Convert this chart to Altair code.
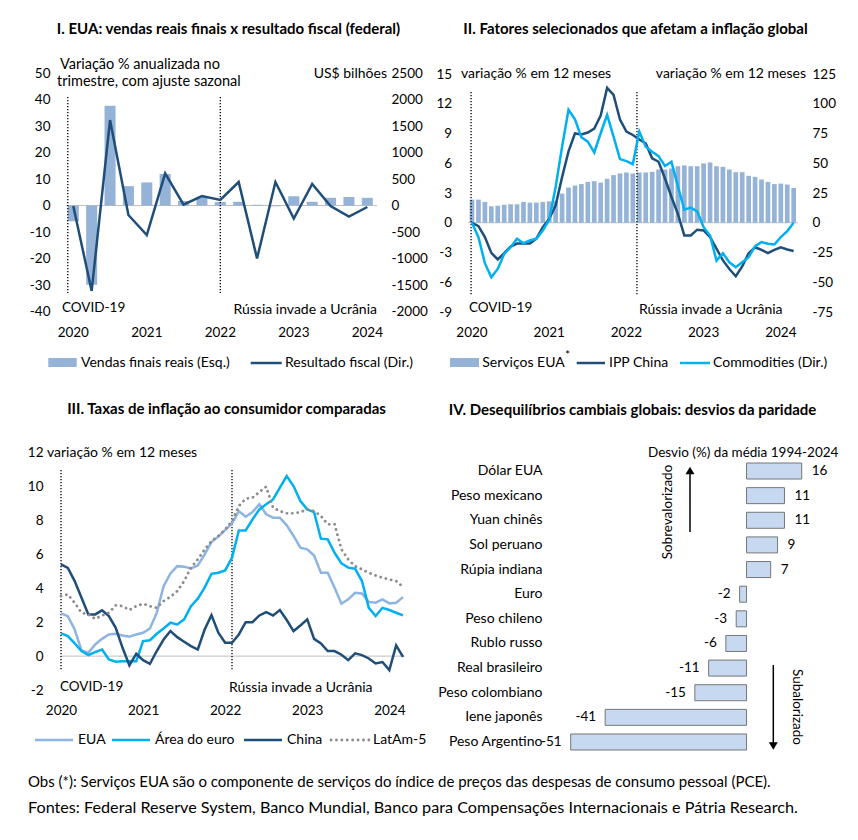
import altair as alt
import pandas as pd

FONT = "Lato"
NAVY = "#1f4e79"
CYAN = "#00b0f0"
LIGHT = "#8db4e2"
BARC = "#95b3d7"
DOTG = "#8c8c8c"
ZERO = "#c0c0c0"
W, H = 858, 840

# ---------------- data ----------------
titles = [
    "I. EUA: vendas reais finais x resultado fiscal (federal)",
    "II. Fatores selecionados que afetam a inflação global",
    "III. Taxas de inflação ao consumidor comparadas",
    "IV. Desequilíbrios cambiais globais: desvios da paridade",
]

# Panel I (quarterly)
quarters = ["2020Q1", "2020Q2", "2020Q3", "2020Q4", "2021Q1", "2021Q2", "2021Q3", "2021Q4",
            "2022Q1", "2022Q2", "2022Q3", "2022Q4", "2023Q1", "2023Q2", "2023Q3", "2023Q4", "2024Q1"]
vendas = [-5.9, -29.9, 37.6, 7.3, 8.7, 11.9, 1.7, 3.3, 1.3, 1.4, 0.3, -0.3, 3.5, 1.4, 2.9, 3.2, 2.9]
fiscal = [-10, -1613, 1613, -179, -557, 608, 17, 179, 104, 443, -1000, 443, -247, 406, -9, -209, -28]
q_ticks = ["2020Q1", "2021Q1", "2022Q1", "2023Q1", "2024Q1"]

# Panels II and III (monthly, Jan 2020 - Mar 2024)
months = [f"{y}-{m:02d}" for y in range(2020, 2025) for m in range(1, 13)][:51]
m_ticks = ["2020-01", "2021-01", "2022-01", "2023-01", "2024-01"]

servicos = [2.33, 2.33, 2.1, 1.66, 1.72, 1.82, 1.86, 1.86, 2.1, 2.03,
            2.03, 2.1, 2.16, 2.2, 2.94, 3.55, 3.75, 3.9, 4.12, 4.19,
            4.05, 4.43, 4.8, 4.97, 5.07, 4.97, 5.07, 5.07, 5.14, 5.37,
            5.37, 5.47, 5.7, 5.78, 5.7, 5.7, 5.98, 6.08, 5.7, 5.64,
            5.37, 5.1, 5.1, 4.73, 4.63, 4.36, 4.12, 3.9, 3.95, 3.85, 3.51]
ipp = [0, -0.34, -1.45, -3.04, -3.7, -3.07, -2.4, -2.1, -2.1, -2.1,
       -1.6, -0.45, 0.4, 1.75, 4.6, 7.2, 9.0, 8.9, 9.1, 9.5,
       10.8, 13.6, 12.9, 10.4, 9.2, 8.85, 8.4, 8.0, 6.5, 6.15,
       4.46, 2.6, 0.9, -1.28, -1.28, -0.7, -0.78, -1.45, -2.6, -3.8,
       -4.66, -5.4, -4.4, -3.07, -2.47, -2.74, -3.07, -2.74, -2.47, -2.7, -2.84]
commodities = [0, -12.1, -34, -45.9, -38.8, -26.2, -20.5, -13.5, -17.2, -14.9,
               -13.5, -6.5, 2.5, 30, 64, 94.9, 87, 71.8, 68.1, 59.1,
               75.2, 90.6, 72.3, 53.5, 51.8, 49.3, 76.6, 63.9, 59.7, 56,
               47.6, 51.2, 30.7, 11, 12.7, 9.6, -3.7, -10.7, -31.8, -25.6,
               -33.2, -37.4, -33.2, -29, -19.7, -16.3, -17.7, -18.3, -12.1, -7, 0]

eua = [2.52, 2.36, 1.57, 0.33, 0.2, 0.69, 1.02, 1.28, 1.32, 1.22,
       1.14, 1.28, 1.38, 1.63, 2.56, 4.13, 4.88, 5.31, 5.28, 5.18,
       5.35, 6.0, 6.73, 7.05, 7.44, 7.83, 8.56, 8.23, 8.5, 8.96,
       8.37, 8.17, 8.17, 7.72, 7.09, 6.4, 6.3, 5.94, 4.92, 4.92,
       4.04, 3.09, 3.35, 3.74, 3.7, 3.2, 3.15, 3.35, 3.11, 3.15, 3.48]
euro = [1.34, 1.18, 0.75, 0.3, 0.06, 0.24, 0.39, -0.2, -0.33, -0.3,
        -0.3, -0.3, 0.89, 0.94, 1.32, 1.63, 1.97, 1.87, 2.17, 2.95,
        3.39, 4.04, 4.86, 4.92, 5.06, 5.81, 7.42, 7.42, 8.07, 8.66,
        8.96, 9.25, 9.94, 10.63, 10.04, 9.15, 8.66, 8.5, 6.93, 6.89,
        6.1, 5.47, 5.22, 5.16, 4.43, 2.85, 2.36, 2.85, 2.72, 2.56, 2.4]
china = [5.41, 5.2, 4.43, 3.44, 2.46, 2.46, 2.7, 2.36, 1.67, 0.49,
         -0.55, 0.14, -0.24, -0.45, 0.3, 0.98, 1.48, 1.12, 0.85, 0.59,
         0.39, 1.57, 2.42, 1.38, 0.79, 0.79, 1.28, 2.0, 2.0, 2.4,
         2.6, 2.4, 2.72, 2.13, 1.48, 1.81, 2.17, 1.02, 0.75, 0.3,
         0.3, 0.08, -0.24, 0.16, 0.06, -0.14, -0.43, -0.35, -0.83, 0.63, -0.04]
latam = [3.55, 3.64, 3.15, 2.56, 2.46, 2.2, 2.4, 2.56, 3.0, 2.95,
         2.72, 2.95, 3.09, 2.95, 2.85, 3.25, 3.5, 3.84, 4.43, 5.22,
         5.71, 6.3, 6.79, 7.09, 7.48, 7.97, 8.86, 9.29, 9.35, 9.69,
         10.0, 8.76, 8.56, 8.43, 8.43, 8.5, 8.66, 8.56, 8.27, 7.78,
         7.78, 6.3, 5.71, 5.31, 5.12, 4.92, 4.76, 4.63, 4.53, 4.43, 4.09]

# Panel IV
moedas = ["Dólar EUA", "Peso mexicano", "Yuan chinês", "Sol peruano", "Rúpia indiana", "Euro",
          "Peso chileno", "Rublo russo", "Real brasileiro", "Peso colombiano", "Iene japonês",
          "Peso Argentino"]
desvio = [16, 11, 11, 9, 7, -2, -3, -6, -11, -15, -41, -51]

leg1 = ["Vendas finais reais (Esq.)", "Resultado fiscal (Dir.)"]
leg2 = ["Serviços EUA", "IPP China", "Commodities (Dir.)"]
leg3 = ["EUA", "Área do euro", "China", "LatAm-5"]
footer = [
    "Obs (*): Serviços EUA são o componente de serviços do índice de preços das despesas de consumo pessoal (PCE).",
    "Fontes: Federal Reserve System, Banco Mundial, Banco para Compensações Internacionais e Pátria Research.",
]

# ---------------- helpers ----------------
ONE = pd.DataFrame({"k": [0]})
AX = dict(domain=False, ticks=False, tickSize=0, grid=False, labelPadding=0, title=None,
          labelFont=FONT, labelFontSize=13.5, labelColor="#000000", labelOverlap=False)


def xaxis(ypos, values):
    return alt.Axis(orient="bottom", offset=ypos - H, values=values, labelAngle=0,
                    labelBaseline="middle", labelExpr="slice(datum.label, 0, 4)", **AX)


def yaxis(orient, xpos, values):
    off = -xpos if orient == "left" else xpos - W
    return alt.Axis(orient=orient, offset=off, values=values,
                    labelExpr="toString(datum.value)", **AX)


def txt(s, x, y, size=13, align="left", weight="normal", angle=0, color="#000000"):
    kw = dict(text=s, align=align, baseline="middle", fontSize=size, fontWeight=weight,
              font=FONT, color=color)
    if angle:
        kw["angle"] = angle
    return alt.Chart(ONE).mark_text(**kw).encode(x=alt.value(x), y=alt.value(y))


def hline(x1, x2, y, color, width=2.5, dash=None, cap="butt"):
    kw = dict(color=color, strokeWidth=width, strokeCap=cap)
    if dash:
        kw["strokeDash"] = dash
    return alt.Chart(ONE).mark_rule(**kw).encode(x=alt.value(x1), x2=alt.value(x2), y=alt.value(y))


def vline(x, y1, y2, color="#000000", width=1.5):
    return alt.Chart(ONE).mark_rule(color=color, strokeWidth=width).encode(
        x=alt.value(x), y=alt.value(y1), y2=alt.value(y2))


def swatch(x1, x2, y1, y2, color):
    return alt.Chart(ONE).mark_rect(color=color).encode(
        x=alt.value(x1), x2=alt.value(x2), y=alt.value(y1), y2=alt.value(y2))


DOT = dict(color="#000000", strokeWidth=1.3, strokeDash=[1.3, 1.7])

# ---------------- Panel I ----------------
df1 = pd.DataFrame({"q": quarters, "vendas": vendas, "fiscal": fiscal})
sx1 = alt.Scale(range=[64.1, 376.5], paddingInner=0.4, paddingOuter=0.2)
syL1 = alt.Scale(domain=[-40, 50], range=[311.5, 73], nice=False, zero=False)
syR1 = alt.Scale(domain=[-2000, 2500], range=[311.5, 73], nice=False, zero=False)
ax_x1 = xaxis(332.5, q_ticks)
ax_yL1 = yaxis("left", 50, list(range(-40, 51, 10)))
ax_yR1 = yaxis("right", 391, list(range(-2000, 2501, 500)))

zero1 = alt.Chart(ONE).mark_rule(color=ZERO, strokeWidth=1).encode(
    x=alt.value(66), x2=alt.value(377), y=alt.Y(datum=0, scale=syL1, axis=ax_yL1))
bars1 = alt.Chart(df1).mark_bar(color=BARC).encode(
    x=alt.X("q:N", scale=sx1, axis=ax_x1),
    y=alt.Y("vendas:Q", scale=syL1, axis=ax_yL1))
vl1a = alt.Chart(ONE).mark_rule(**DOT).encode(
    x=alt.X(datum="2020Q1", type="nominal", bandPosition=0, scale=sx1, axis=ax_x1),
    y=alt.value(97), y2=alt.value(293))
vl1b = alt.Chart(ONE).mark_rule(**DOT).encode(
    x=alt.X(datum="2022Q1", type="nominal", bandPosition=0.5, scale=sx1, axis=ax_x1),
    y=alt.value(97), y2=alt.value(293))
line1 = alt.Chart(df1).mark_line(color=NAVY, strokeWidth=2.5).encode(
    x=alt.X("q:N", scale=sx1, axis=ax_x1, bandPosition=0.5),
    y=alt.Y("fiscal:Q", scale=syR1, axis=ax_yR1))
p1 = alt.layer(alt.layer(zero1, bars1, vl1a, vl1b), line1).resolve_scale(y="independent")

# ---------------- Panel II ----------------
df2 = pd.DataFrame({"m": months, "serv": servicos, "ipp": ipp, "comm": commodities})
sx2 = alt.Scale(range=[468.8, 796.9], paddingInner=0.27, paddingOuter=0.135)
syL2 = alt.Scale(domain=[-9, 15], range=[312, 74], nice=False, zero=False)
syR2 = alt.Scale(domain=[-75, 125], range=[312, 74], nice=False, zero=False)
ax_x2 = xaxis(332.5, m_ticks)
ax_yL2 = yaxis("left", 451.7, list(range(-9, 16, 3)))
ax_yR2 = yaxis("right", 812, list(range(-75, 126, 25)))

zero2 = alt.Chart(ONE).mark_rule(color=ZERO, strokeWidth=1).encode(
    x=alt.value(468), x2=alt.value(798), y=alt.Y(datum=0, scale=syL2, axis=ax_yL2))
bars2 = alt.Chart(df2).mark_bar(color=BARC).encode(
    x=alt.X("m:N", scale=sx2, axis=ax_x2),
    y=alt.Y("serv:Q", scale=syL2, axis=ax_yL2))
vl2a = alt.Chart(ONE).mark_rule(**DOT).encode(
    x=alt.X(datum="2020-01", type="nominal", bandPosition=0.3, scale=sx2, axis=ax_x2),
    y=alt.value(92), y2=alt.value(295))
vl2b = alt.Chart(ONE).mark_rule(**DOT).encode(
    x=alt.X(datum="2022-03", type="nominal", bandPosition=0, scale=sx2, axis=ax_x2),
    y=alt.value(92), y2=alt.value(295))
ipp_line = alt.Chart(df2).mark_line(color=NAVY, strokeWidth=2.5).encode(
    x=alt.X("m:N", scale=sx2, axis=ax_x2, bandPosition=0.5),
    y=alt.Y("ipp:Q", scale=syL2, axis=ax_yL2))
comm_line = alt.Chart(df2).mark_line(color=CYAN, strokeWidth=2.5).encode(
    x=alt.X("m:N", scale=sx2, axis=ax_x2, bandPosition=0.5),
    y=alt.Y("comm:Q", scale=syR2, axis=ax_yR2))
p2 = alt.layer(alt.layer(zero2, bars2, vl2a, vl2b, ipp_line), comm_line).resolve_scale(y="independent")

# ---------------- Panel III ----------------
df3 = pd.DataFrame({"m": months, "eua": eua, "euro": euro, "china": china, "latam": latam})
sx3 = alt.Scale(type="point", range=[61, 403], padding=0)
sy3 = alt.Scale(domain=[-2, 12], range=[690, 452.8], nice=False, zero=False)
ax_x3 = xaxis(710, m_ticks)
ax_y3 = yaxis("left", 43, list(range(-2, 13, 2)))

zero3 = alt.Chart(ONE).mark_rule(color=ZERO, strokeWidth=1).encode(
    x=alt.value(61), x2=alt.value(405), y=alt.Y(datum=0, scale=sy3, axis=ax_y3))
vl3a = alt.Chart(ONE).mark_rule(**DOT).encode(
    x=alt.X(datum="2020-01", type="nominal", scale=sx3, axis=ax_x3),
    y=alt.value(470), y2=alt.value(670))
vl3b = alt.Chart(ONE).mark_rule(**DOT).encode(
    x=alt.X(datum="2022-02", type="nominal", scale=sx3, axis=ax_x3),
    y=alt.value(470), y2=alt.value(670))


def line3(field, **mk):
    return alt.Chart(df3).mark_line(**mk).encode(
        x=alt.X("m:N", scale=sx3, axis=ax_x3),
        y=alt.Y(f"{field}:Q", scale=sy3, axis=ax_y3))


l_eua = line3("eua", color=LIGHT, strokeWidth=2.5)
l_euro = line3("euro", color=CYAN, strokeWidth=2.5)
l_china = line3("china", color=NAVY, strokeWidth=2.5)
l_latam = line3("latam", color=DOTG, strokeWidth=2.8, strokeDash=[0.1, 5.3], strokeCap="round")
p3 = alt.layer(zero3, vl3a, vl3b, l_eua, l_euro, l_china, l_latam)

# ---------------- Panel IV ----------------
df4 = pd.DataFrame({"moeda": moedas, "desvio": desvio})
sy4 = alt.Scale(domain=moedas, range=[458.7, 754.3], paddingInner=0.35, paddingOuter=0.175)
sx4 = alt.Scale(domain=[-55, 20], range=[556.9, 815.5], nice=False)
ax_y4 = alt.Axis(orient="left", offset=-542, **{**AX, "labelFontSize": 14})

bars4 = alt.Chart(df4).mark_bar(fill="#c6d9f1", stroke="#767676", strokeWidth=1).encode(
    y=alt.Y("moeda:N", scale=sy4, axis=ax_y4),
    x=alt.X("desvio:Q", scale=sx4, axis=None))
lab_pos = alt.Chart(df4).transform_filter("datum.desvio > 0").transform_calculate(
    lab="toString(datum.desvio)").mark_text(
    align="left", baseline="middle", dx=10, font=FONT, fontSize=13.5, color="#000000").encode(
    y=alt.Y("moeda:N", scale=sy4, axis=ax_y4), x=alt.X("desvio:Q", scale=sx4, axis=None),
    text="lab:N")
lab_neg = alt.Chart(df4).transform_filter("datum.desvio < 0").transform_calculate(
    lab="toString(datum.desvio)").mark_text(
    align="right", baseline="middle", dx=-9, font=FONT, fontSize=13.5, color="#000000").encode(
    y=alt.Y("moeda:N", scale=sy4, axis=ax_y4), x=alt.X("desvio:Q", scale=sx4, axis=None),
    text="lab:N")
p4 = alt.layer(bars4, lab_pos, lab_neg)

# ---------------- decorations ----------------
decor = [
    # titles
    txt(titles[0], 228.5, 29, 15, "center", "bold"),
    txt(titles[1], 635.5, 29, 15, "center", "bold"),
    txt(titles[2], 226.5, 408.5, 15, "center", "bold"),
    txt(titles[3], 632.5, 410, 15, "center", "bold"),
    # panel I notes
    txt("Variação % anualizada no", 60, 65, 14.5),
    txt("trimestre, com ajuste sazonal", 57, 82, 14.5),
    txt("US$ bilhões", 387, 74, 14, align="right"),
    txt("COVID-19", 62, 308, 13.5),
    txt("Rússia invade a Ucrânia", 377, 310, 14, align="right"),
    # panel II notes
    txt("variação % em 12 meses", 461, 74, 14),
    txt("variação % em 12 meses", 806, 74, 14, align="right"),
    txt("COVID-19", 469, 308, 13.5),
    txt("Rússia invade a Ucrânia", 639, 310, 14),
    # panel III notes
    txt("variação % em 12 meses", 47, 453, 14),
    txt("COVID-19", 60, 687, 13.5),
    txt("Rússia invade a Ucrânia", 229, 688, 14),
    # panel IV notes
    txt("Desvio (%) da média 1994-2024", 648, 453, 13.5),
    txt("Sobrevalorizado", 668, 512, 13.5, align="center", angle=270),
    txt("Subalorizado", 797, 707, 13.5, align="center", angle=90),
    vline(690, 532, 472),
    alt.Chart(ONE).mark_point(shape="triangle-up", filled=True, size=80, color="#000000",
                              opacity=1).encode(x=alt.value(690), y=alt.value(470.5)),
    vline(773.3, 665, 744),
    alt.Chart(ONE).mark_point(shape="triangle-down", filled=True, size=80, color="#000000",
                              opacity=1).encode(x=alt.value(773.3), y=alt.value(746)),
    # legend panel I
    swatch(48.3, 76.7, 358, 367, BARC),
    txt(leg1[0], 81, 363, 14),
    hline(250.7, 281.7, 363, NAVY),
    txt(leg1[1], 285, 363, 14),
    # legend panel II
    swatch(450, 479, 358, 367, BARC),
    txt(leg2[0], 482.3, 363, 14),
    txt("*", 565, 355, 12),
    hline(576.7, 605, 363, NAVY),
    txt(leg2[1], 609, 363, 14),
    hline(680, 710, 363, CYAN),
    txt(leg2[2], 713, 363, 14),
    # legend panel III
    hline(35, 73, 740, LIGHT),
    txt(leg3[0], 78, 740, 14),
    hline(112, 150, 740, CYAN),
    txt(leg3[1], 155, 740, 14),
    hline(244, 282, 740, NAVY),
    txt(leg3[2], 287, 740, 14),
    hline(331, 369, 740, DOTG, 2.8, [0.1, 5.3], "round"),
    txt(leg3[3], 373, 740, 14),
    # footer
    txt(footer[0], 28, 782, 15),
    txt(footer[1], 28, 808, 16.2),
]

chart = alt.layer(p1, p2, p3, p4, *decor).resolve_scale(
    x="independent", y="independent"
).properties(
    width=W, height=H, autosize=alt.AutoSizeParams(type="none"), padding=0
).configure(font=FONT).configure_view(strokeWidth=0)

chart.save("out.html", embed_options={"renderer": "svg", "actions": False})
